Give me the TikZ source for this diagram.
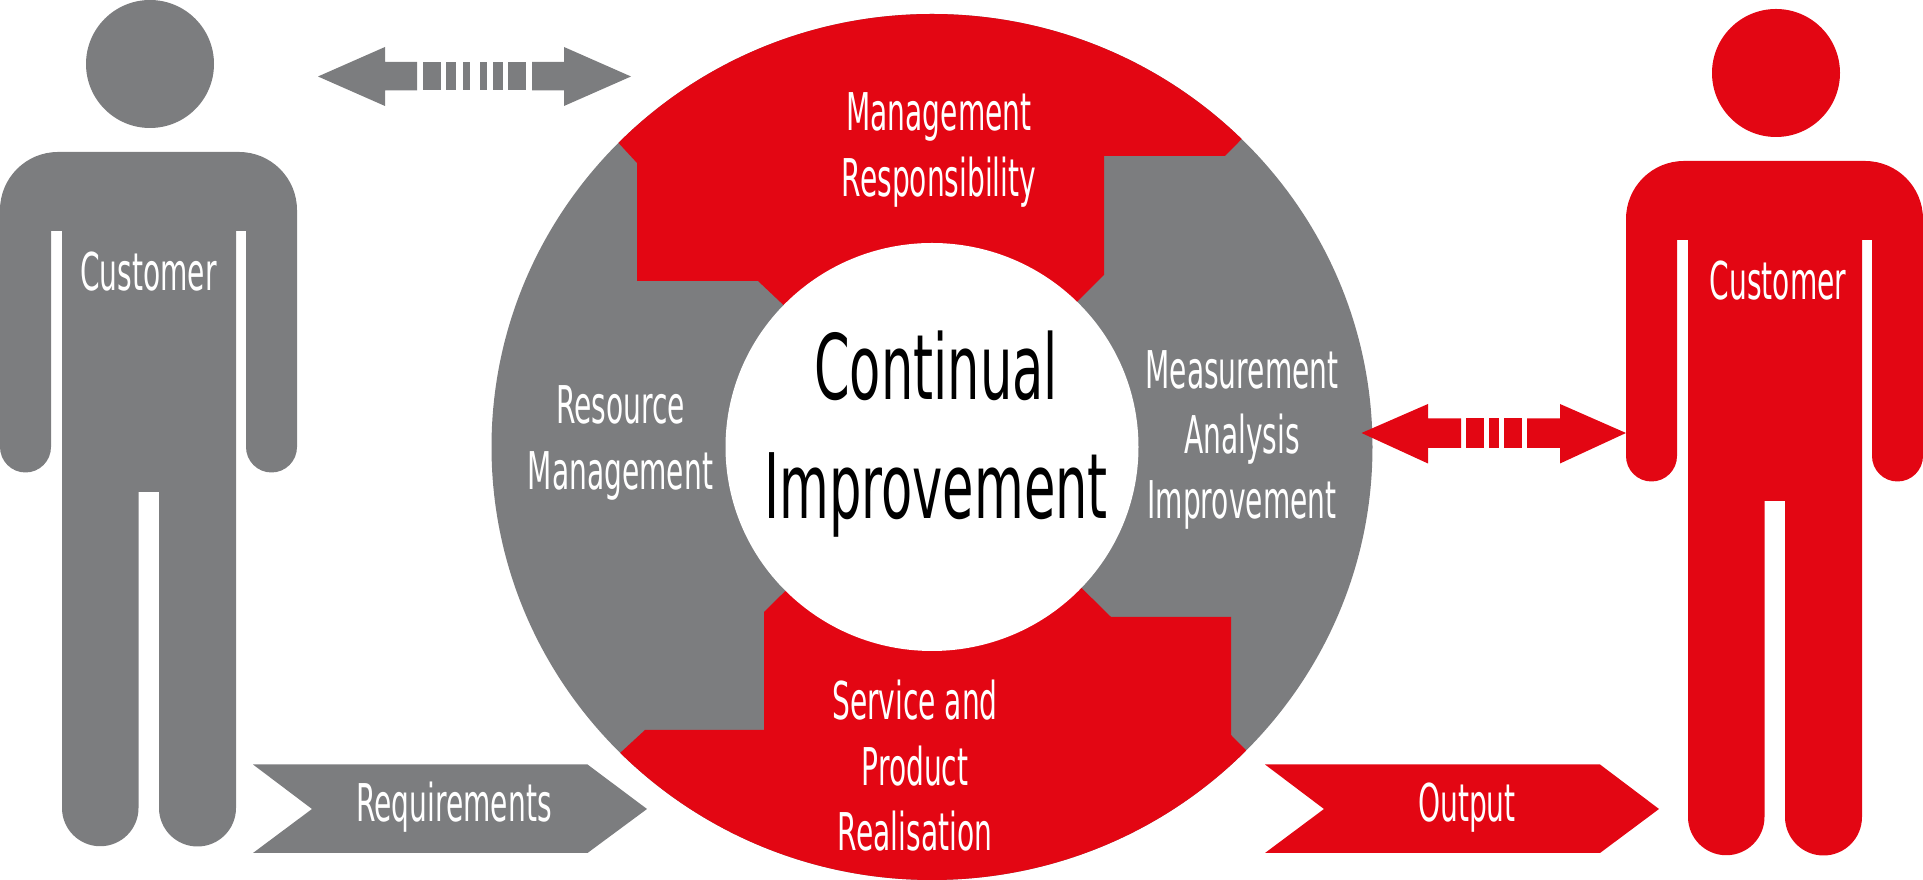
\documentclass[tikz,border=0pt]{standalone}
\usepackage{fontspec}
\usepackage{tikz}
\newfontfamily\agency[FakeStretch=0.54]{DejaVu Sans}
\newfontfamily\agencybig[FakeStretch=0.565]{DejaVu Sans}
\definecolor{custgray}{HTML}{7C7D7F}
\definecolor{custred}{HTML}{E30613}
\tikzset{
    lbl/.style={text=white, inner sep=0pt, align=center, font=\agency\fontsize{14.8}{18.6}\selectfont},
    biglbl/.style={text=black, inner sep=0pt, align=center, font=\agencybig\fontsize{25.7}{33.8}\selectfont}
}

\begin{document}
\begin{tikzpicture}[x=0.01cm, y=-0.01cm]
    \useasboundingbox (0,0) rectangle (1923,880);

    \foreach \dx/\dy/\col in {0/0/custgray, 1626/9/custred} {
        \fill[color=\col, shift={(\dx,\dy)}] (150,64) circle[radius=64];
        \fill[color=\col, shift={(\dx,\dy)}] (0,210) arc[start angle=180, end angle=270, radius=58]
            -- (239,152) arc[start angle=270, end angle=360, radius=58]
            -- (297,447) arc[start angle=0, end angle=180, radius=25.5]
            -- (246,231) -- (236,231) -- (236,808) arc[start angle=0, end angle=180, radius=38.5]
            -- (159,492) -- (138.5,492) -- (138.5,808) arc[start angle=0, end angle=180, radius=38.25]
            -- (62,231) -- (51,231) -- (51,447) arc[start angle=0, end angle=180, radius=25.5]
            -- cycle;
    }

    \fill[custgray] (932,447) ellipse[x radius=440.5, y radius=433];
    \begin{scope}
        \clip (932,447) ellipse[x radius=440.5, y radius=433];
        \fill[custred] (637,163) -- (590,112) -- (590,0) -- (1280,0) -- (1280,100) -- (1225,156)
            -- (1104,156) -- (1104,275) -- (1030,349) -- (830,349) -- (758,281) -- (637,281) -- cycle;
        \fill[custred] (645,730) -- (580,790) -- (580,880) -- (1290,880) -- (1290,795) -- (1231,735)
            -- (1231,617) -- (1111,617) -- (1040,547) -- (830,547) -- (764,612) -- (764,730) -- cycle;
    \end{scope}
    \fill[white] (932,447) ellipse[x radius=206.5, y radius=204];

    \fill[custgray] (318,76.5) -- (385,47) -- (385,62) -- (417,62) -- (417,90.5) -- (385,90.5) -- (385,106) -- cycle;
    \fill[custgray] (631,76.5) -- (564,47) -- (564,62) -- (532,62) -- (532,90.5) -- (564,90.5) -- (564,106) -- cycle;
    \foreach \xa/\xb in {423/441, 446/456, 463/470, 480/487, 493/503, 508/526} {
        \fill[custgray] (\xa,62) rectangle (\xb,90.5);
    }

    \fill[custred] (1361.5,433) -- (1428,404) -- (1428,418.5) -- (1461,418.5) -- (1461,448) -- (1428,448) -- (1428,463.5) -- cycle;
    \fill[custred] (1626,433) -- (1560,404) -- (1560,418.5) -- (1527,418.5) -- (1527,448) -- (1560,448) -- (1560,463.5) -- cycle;
    \foreach \xa/\xb in {1466/1484, 1489/1499, 1504/1522} {
        \fill[custred] (\xa,418.5) rectangle (\xb,448);
    }

    \fill[custgray] (253,764.5) -- (587.5,764.5) -- (647,809) -- (587.5,853) -- (253,853) -- (312,809) -- cycle;
    \fill[custred] (1265,764.5) -- (1600,764.5) -- (1659,809) -- (1600,853) -- (1265,853) -- (1324,809) -- cycle;

    \node[lbl, anchor=base] (custleft) at (148.5,291) {Customer};
    \node[lbl, anchor=base] (custright) at (1778,299.5) {Customer};
    \node[lbl, anchor=base] (req) at (454,822) {Requirements};
    \node[lbl, anchor=base] (out) at (1467,822) {Output};
    \node[lbl] (mgmt) at (939,150) {Management\\Responsibility};
    \node[lbl] (res) at (620.5,443) {Resource\\Management};
    \node[lbl] (meas) at (1242,440) {Measurement\\Analysis\\Improvement};
    \node[lbl] (serv) at (915,766) {Service and\\Product\\Realisation};
    \node[biglbl] (cont) at (936,434) {Continual\\Improvement};
\end{tikzpicture}
\end{document}
